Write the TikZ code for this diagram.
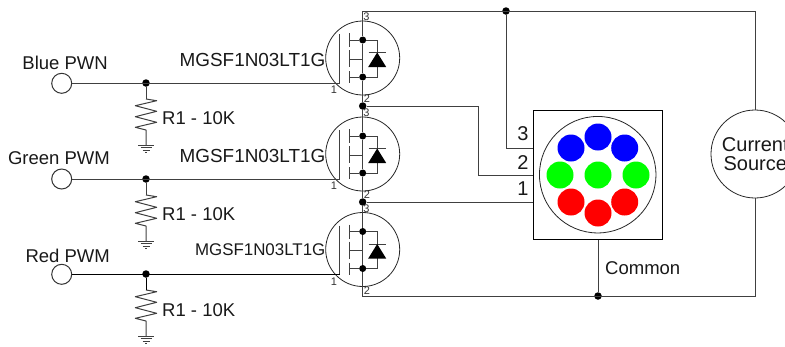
\documentclass[tikz,border=0pt]{standalone}
\usepackage{fontspec}
\setmainfont{Liberation Sans}
\tikzset{
  x=1pt,y=-1pt,
  wire/.style={line width=1pt,draw=black!75},
  junction/.style={circle,fill=black,draw=none,inner sep=0pt,minimum size=7.5pt},
  smalldot/.style={circle,fill=black,draw=none,inner sep=0pt,minimum size=7pt},
  port/.style={circle,draw=black!80,line width=1pt,fill=white,inner sep=0pt,minimum size=20pt},
  lbl/.style={inner sep=0pt,font=\fontsize{18.5}{20}\selectfont,text=black!90},
  pinlbl/.style={inner sep=0pt,font=\fontsize{11}{12}\selectfont,text=black!80},
  numlbl/.style={inner sep=0pt,font=\fontsize{20}{22}\selectfont,text=black!90},
  led/.style={circle,draw=none,inner sep=0pt,minimum size=27pt},
  fet/.pic={
    \node[circle,draw=black!85,line width=.8pt,inner sep=0pt,minimum size=74pt] (-body) at (0,0) {};
    \node[smalldot] (-drain) at (0,-18) {};
    \node[smalldot] (-source) at (0,19) {};
    \coordinate (-gate) at (-23,25);
    \draw[wire] (-23,-24) -- (-gate);
    \draw[wire] (-13.5,-25) -- (-13.5,-11) (-13.5,-8) -- (-13.5,9) (-13.5,13) -- (-13.5,25);
    \draw[wire] (-13.5,-18) -- (-drain);
    \draw[wire] (-13.5,19) -- (-source);
    \draw[wire] (-13.5,1) -- (0,1) -- (-source);
    \draw[wire] (-drain) -- (14.5,-18) -- (14.5,19) -- (-source);
    \draw[wire] (6,-5.5) -- (23,-5.5);
    \fill[black] (14.5,-5.5) -- (23.5,9) -- (5.5,9) -- cycle;
  },
  respic/.pic={
    \coordinate (-top) at (0,16);
    \coordinate (-bot) at (0,62);
    \draw[wire,line join=round] (-top) -- (10.7,17.7) -- (-10.7,22.7) -- (10.7,28.3) -- (-10.7,33.7) -- (10.7,39.3) -- (-10.7,44.3) -- (0,47) -- (-bot);
    \draw[line width=.8pt,draw=black!75] (-8,62) -- (8,62) (-5.5,64.5) -- (5.5,64.5) (-3.5,67) -- (3.5,67) (-1,69.5) -- (1,69.5);
  }
}
\begin{document}
\begin{tikzpicture}
\useasboundingbox (0,0) rectangle (785,346);
\clip (0,0) rectangle (785,346);

% MOSFETs
\pic (q1) at (362.7,58) {fet};
\pic (q2) at (362.7,154) {fet};
\pic (q3) at (362.7,249.5) {fet};

% junctions and corners
\node[junction] (j12) at (362.7,106) {};
\node[junction] (j23) at (362.7,202) {};
\node[junction] (jtop) at (506,11) {};
\node[junction] (jcom) at (598,296) {};
\node[junction] (jb) at (146,83) {};
\node[junction] (jg) at (146,179) {};
\node[junction] (jr) at (146,274) {};
\coordinate (tl) at (362.7,11);
\coordinate (bl) at (362.7,296.5);
\coordinate (tr) at (755,11);
\coordinate (br) at (755,296.5);

% Input ports
\node[port] (pb) at (61.7,83.3) {};
\node[port] (pg) at (61.7,179) {};
\node[port] (pr) at (61.7,274.3) {};

% Resistors
\pic (r1) at (146,83) {respic};
\pic (r2) at (146,179) {respic};
\pic (r3) at (146,274) {respic};
\draw[wire] (jb) -- (r1-top);
\draw[wire] (jg) -- (r2-top);
\draw[wire,draw=black] (jr) -- (r3-top);

% Gate wires
\draw[wire] (pb.east |- q1-gate) -- (q1-gate);
\draw[wire] (pg.east |- q2-gate) -- (q2-gate);
\draw[wire,draw=black] (pr.east |- q3-gate) -- (q3-gate);

% Source/drain leads
\draw[wire] (tl) -- (q1-drain);
\draw[wire] (q1-drain) -- (q1-source);
\draw[wire] (q1-source) -- (j12);
\draw[wire] (j12) -- (q2-drain);
\draw[wire] (q2-drain) -- (q2-source);
\draw[wire] (q2-source) -- (j23);
\draw[wire] (j23) -- (q3-drain);
\draw[wire] (q3-drain) -- (q3-source);
\draw[wire] (q3-source) -- (bl);

% LED package
\node[draw=black,line width=1pt,fill=white,inner sep=0pt,minimum width=129pt,minimum height=128.5pt] (pkg) at (598,175) {};
\node[circle,draw=black!85,line width=.8pt,inner sep=0pt,minimum size=116.5pt] (lens) at (597.7,174.7) {};
\node[led,fill=blue] (b1) at (598,137) {};
\node[led,fill=blue] (b2) at (571,148) {};
\node[led,fill=blue] (b3) at (624.7,148) {};
\node[led,fill=green] (g1) at (560,175) {};
\node[led,fill=green] (g2) at (598,175) {};
\node[led,fill=green] (g3) at (636,175) {};
\node[led,fill=red] (r1led) at (571,202) {};
\node[led,fill=red] (r2led) at (598,213) {};
\node[led,fill=red] (r3led) at (624.7,202) {};

% Current source
\node[circle,draw=black!85,line width=.8pt,fill=white,inner sep=0pt,minimum size=88pt] (cs) at (755,154) {};
\node[lbl,align=center,font=\fontsize{20}{19}\selectfont] (cstext) at (755.3,154) {Current\\Source};

% Supply and package wires
\draw[wire] (tl) -- (tr) -- (cs.north);
\draw[wire] (cs.south) -- (br) -- (bl);
\draw[wire] (jtop) |- (pkg.west |- 0,148);
\draw[wire] (j12) -- (478,106) -- (478,175) -- (pkg.west);
\draw[wire] (j23) -- (pkg.west |- j23);
\draw[wire] (pkg.south) -- (jcom);

% Labels
\node[lbl,anchor=east] (tb) at (108,62.5) {Blue PWN};
\node[lbl,anchor=east] (tg) at (110,158) {Green PWM};
\node[lbl,anchor=east] (tr2) at (110,256) {Red PWM};
\node[lbl,anchor=east,font=\fontsize{18.9}{20}\selectfont] (t1) at (325.5,60) {MGSF1N03LT1G};
\node[lbl,anchor=east,font=\fontsize{18.9}{20}\selectfont] (t2) at (325.5,156) {MGSF1N03LT1G};
\node[lbl,anchor=east,font=\fontsize{16.9}{18}\selectfont] (t3) at (325.5,250) {MGSF1N03LT1G};
\node[lbl,anchor=west] (tr1a) at (162,118) {R1 - 10K};
\node[lbl,anchor=west] (tr2a) at (162,214) {R1 - 10K};
\node[lbl,anchor=west] (tr3a) at (162,310) {R1 - 10K};
\node[lbl,anchor=west] (tc) at (605,268) {Common};
\node[numlbl] (n3) at (523,134) {3};
\node[numlbl] (n2) at (523,163) {2};
\node[numlbl] (n1) at (523,189) {1};

% Pin numbers
\foreach \n/\dy in {q1/0,q2/96,q3/191.5}{
  \node[pinlbl] (\n pa) at (366.5,17+\dy) {3};
  \node[pinlbl] (\n pb) at (367,99+\dy) {2};
  \node[pinlbl] (\n pc) at (334,90+\dy) {1};
}
\end{tikzpicture}
\end{document}
